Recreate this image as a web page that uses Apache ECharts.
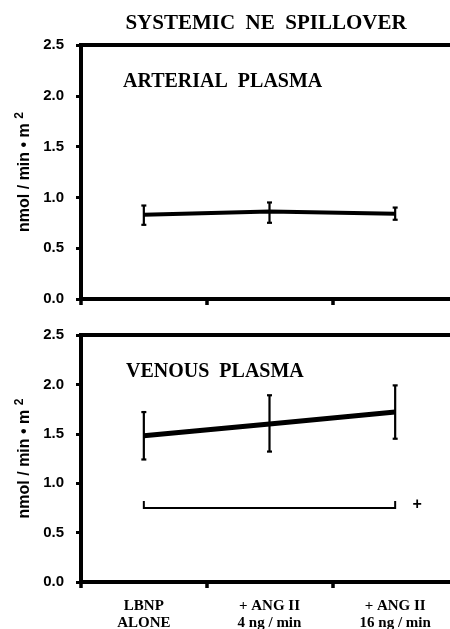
<!DOCTYPE html>
<html>
<head>
<meta charset="utf-8">
<script src="https://cdn.jsdelivr.net/npm/echarts@6/dist/echarts.min.js"></script>
<style>
html,body{margin:0;padding:0;background:#fff;}
#chart{width:450px;height:629px;}
</style>
</head>
<body>
<div id="chart"></div>
<script>
var categories = ['LBNP\nALONE', '+ ANG II\n4 ng / min', '+ ANG II\n16 ng / min'];
var arterialMean = [0.83, 0.86, 0.84];
var arterialHigh = [0.92, 0.95, 0.90];
var arterialLow  = [0.73, 0.75, 0.78];
var venousMean = [1.48, 1.60, 1.72];
var venousHigh = [1.72, 1.89, 1.99];
var venousLow  = [1.24, 1.32, 1.45];
// significance bracket: from category 0 to 2, base level, end-tick top
var bracketFrom = 0, bracketTo = 2, bracketLevel = 0.75, bracketTop = 0.82;
var bracketMark = '+';
var yMin = 0, yMax = 2.5, yInterval = 0.5;

var serif = 'Liberation Serif';
var sans = 'Liberation Sans';

function errData(low, high) {
  return low.map(function (l, i) { return [i, l, high[i]]; });
}
function errRender(params, api) {
  var x = api.value(0);
  var lo = api.coord([x, api.value(1)]);
  var hi = api.coord([x, api.value(2)]);
  var c = 2.5;
  var st = { stroke: '#000', lineWidth: 2.2 };
  return { type: 'group', children: [
    { type: 'line', shape: { x1: lo[0], y1: lo[1], x2: hi[0], y2: hi[1] }, style: st },
    { type: 'line', shape: { x1: lo[0] - c, y1: lo[1], x2: lo[0] + c, y2: lo[1] }, style: st },
    { type: 'line', shape: { x1: hi[0] - c, y1: hi[1], x2: hi[0] + c, y2: hi[1] }, style: st }
  ]};
}

function yAxisCfg(gi) {
  return {
    type: 'value', gridIndex: gi, min: yMin, max: yMax, interval: yInterval,
    name: '{a|nmol / min • m }{s|2}', nameLocation: 'middle', nameGap: 41, nameRotate: 90,
    nameTextStyle: { rich: {
      a: { fontFamily: sans, fontWeight: 'bold', fontSize: 16, color: '#000' },
      s: { fontFamily: sans, fontWeight: 'bold', fontSize: 12, color: '#000', verticalAlign: 'top', padding: [0, 0, 9, 0] }
    }},
    axisLine: { show: true, lineStyle: { color: '#000', width: 4 } },
    axisTick: { show: true, inside: false, length: 5, lineStyle: { color: '#000', width: 3 } },
    axisLabel: { color: '#000', fontFamily: sans, fontWeight: 'bold', fontSize: 15, margin: 17,
      formatter: function (v) { return v.toFixed(1); } },
    splitLine: { show: false }
  };
}
function xAxisCfg(gi, showLabel) {
  return {
    type: 'category', gridIndex: gi, data: categories, boundaryGap: true,
    axisLine: { show: true, lineStyle: { color: '#000', width: 4 } },
    axisTick: { show: true, length: 6, lineStyle: { color: '#000', width: 3.5 } },
    axisLabel: { show: showLabel, color: '#000', fontFamily: serif, fontWeight: 'bold', fontSize: 15, lineHeight: 17, margin: 16 },
    splitLine: { show: false }
  };
}

var chart = echarts.init(document.getElementById('chart'), null, { renderer: 'canvas' });
chart.setOption({
  backgroundColor: '#fff',
  animation: false,
  title: [
    { text: 'SYSTEMIC  NE  SPILLOVER', left: 261, top: 8, textAlign: 'center',
      textStyle: { fontFamily: serif, fontWeight: 'bold', fontSize: 21, color: '#000' } },
    { text: 'ARTERIAL  PLASMA', left: 118, top: 67,
      textStyle: { fontFamily: serif, fontWeight: 'bold', fontSize: 20, color: '#000' } },
    { text: 'VENOUS  PLASMA', left: 121, top: 357,
      textStyle: { fontFamily: serif, fontWeight: 'bold', fontSize: 20, color: '#000' } }
  ],
  grid: [
    { left: 81, right: -8, top: 45, height: 254, show: true, borderColor: '#000', borderWidth: 4,
      backgroundColor: 'transparent', outerBoundsMode: 'none', containLabel: false },
    { left: 81, right: -8, top: 335, height: 247, show: true, borderColor: '#000', borderWidth: 4,
      backgroundColor: 'transparent', outerBoundsMode: 'none', containLabel: false }
  ],
  xAxis: [xAxisCfg(0, false), xAxisCfg(1, true)],
  yAxis: [yAxisCfg(0), yAxisCfg(1)],
  series: [
    { type: 'line', xAxisIndex: 0, yAxisIndex: 0, data: arterialMean, symbol: 'none',
      lineStyle: { color: '#000', width: 4 } },
    { type: 'custom', xAxisIndex: 0, yAxisIndex: 0, data: errData(arterialLow, arterialHigh),
      renderItem: errRender, encode: { x: 0, y: [1, 2] } },
    { type: 'line', xAxisIndex: 1, yAxisIndex: 1, data: venousMean, symbol: 'none',
      lineStyle: { color: '#000', width: 5 } },
    { type: 'custom', xAxisIndex: 1, yAxisIndex: 1, data: errData(venousLow, venousHigh),
      renderItem: errRender, encode: { x: 0, y: [1, 2] } },
    { type: 'custom', xAxisIndex: 1, yAxisIndex: 1, clip: false,
      data: [[bracketFrom, bracketTo, bracketLevel, bracketTop]],
      encode: { x: [0, 1], y: [2, 3] },
      renderItem: function (params, api) {
        var a = api.coord([api.value(0), api.value(3)]);
        var b = api.coord([api.value(0), api.value(2)]);
        var c = api.coord([api.value(1), api.value(2)]);
        var d = api.coord([api.value(1), api.value(3)]);
        var w = api.size([1, 0])[0];
        return { type: 'group', children: [
          { type: 'polyline', shape: { points: [a, b, c, d] },
            style: { stroke: '#000', lineWidth: 2, fill: null } },
          { type: 'text', x: c[0] + w * 0.175, y: (b[1] + a[1]) / 2,
            style: { text: bracketMark, fontFamily: sans, fontWeight: 'bold', fontSize: 16,
              fill: '#000', align: 'center', verticalAlign: 'middle' } }
        ]};
      } }
  ]
});
</script>
</body>
</html>
